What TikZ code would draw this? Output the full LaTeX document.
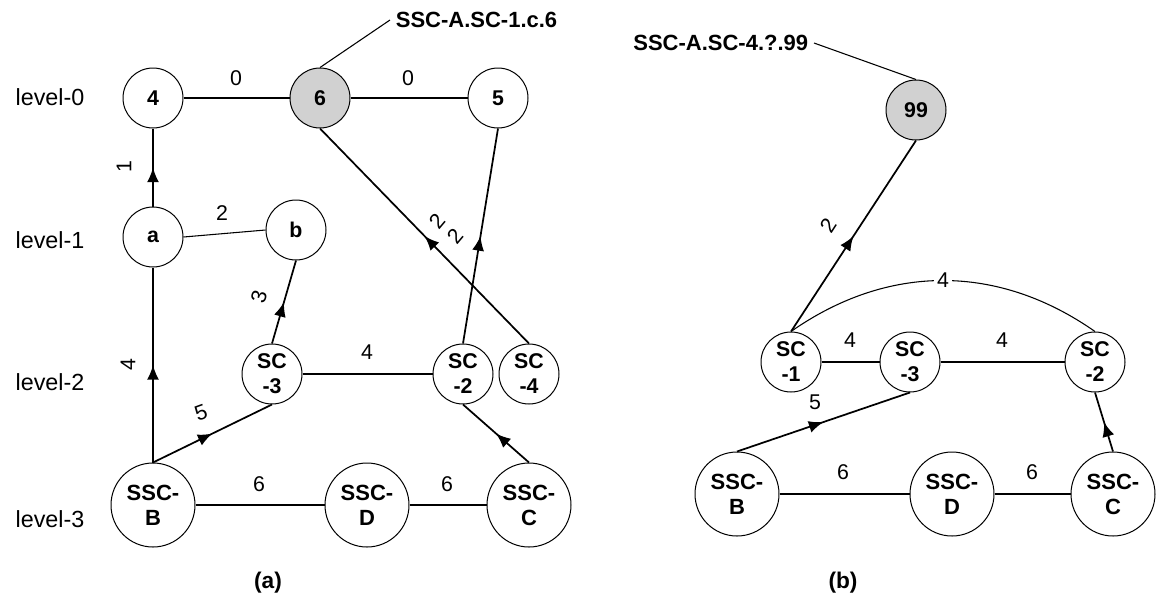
\documentclass[tikz,border=0pt]{standalone}
\usepackage{fontspec}
\setmainfont{Liberation Sans}
\usepackage{tikz}
\usetikzlibrary{arrows.meta,decorations.markings}
\tikzset{every picture/.style={line width=0.75pt}}
\definecolor{hlgrey}{RGB}{209,209,209}
\tikzset{
  small/.style={circle,draw,line width=0.75pt,minimum size=45pt,inner sep=0pt,
    font=\bfseries\fontsize{16}{19}\selectfont},
  sc/.style={small,align=center,font=\bfseries\fontsize{16}{18.75}\selectfont},
  big/.style={circle,draw,line width=0.75pt,minimum size=63pt,inner sep=0pt,align=center,
    font=\bfseries\fontsize{16.5}{18.75}\selectfont},
  marked/.style={fill=hlgrey},
  wire/.style={line width=1.3pt},
  thinwire/.style={line width=0.8pt},
  midarrow/.style={postaction={decorate},decoration={markings,
    mark=at position 0.5 with {\arrow{Latex[length=11pt,width=9pt]}}}},
  weight/.style={inner sep=0pt,font=\fontsize{16}{19}\selectfont},
  levellbl/.style={inner sep=0pt,font=\fontsize{17.5}{20}\selectfont},
  tag/.style={inner sep=4pt,font=\bfseries\fontsize{16.5}{19}\selectfont},
  caption/.style={inner sep=0pt,font=\bfseries\fontsize{17}{20}\selectfont}
}

\begin{document}
\begin{tikzpicture}[x=0.75pt,y=0.75pt,yscale=-1,xscale=1]
\useasboundingbox (0,0) rectangle (1157,612);

%%%% (a)
%Shape: Circle
\node[small] (four) at (153,98) {4};
\node[small,marked] (six) at (320,98) {6};
\node[small] (five) at (498,98) {5};
\node[small] (na) at (153,237) {a};
\node[small] (nb) at (296,230) {b};
\node[sc] (scthree) at (272,374) {SC\\-3};
\node[sc] (sctwo) at (463,374) {SC\\-2};
\node[sc] (scfour) at (529,374) {SC\\-4};
\node[big] (sscb) at (153,505) {SSC-\\B};
\node[big] (sscd) at (367,505) {SSC-\\D};
\node[big] (sscc) at (529,505) {SSC-\\C};

%Straight Lines
\draw[wire] (four) -- (six);
\draw[wire] (six) -- (five);
\draw[wire,midarrow] (na.north) -- (four.south);
\draw[thinwire] (na.east) -- (nb.west);
\draw[wire,midarrow] (scthree.north) -- (nb.south);
\draw[wire,midarrow] (sscb.north) -- (na.south);
\draw[wire,midarrow] (sscb.north) -- (scthree.south);
\draw[wire] (scthree) -- (sctwo);
\draw[wire,midarrow] (sctwo.north) -- (five.south);
\draw[wire,midarrow] (scfour.north) -- (six.south);
\draw[wire,midarrow] (sscc.north) -- (sctwo.south);
\draw[thinwire] (sscb) -- (sscd);
\draw[thinwire] (sscd) -- (sscc);

% Text Node
\node[tag,anchor=west] (tagA) at (390,20) {SSC-A.SC-1.c.6};
\draw[thinwire] (six.north) -- (tagA.west);

% Text Node
\node[weight] (wfoursix) at (236,78) {0};
\node[weight] (wsixfive) at (408,78) {0};
\node[weight,rotate=90] (wafour) at (124,167) {1};
\node[weight] (wab) at (222,213) {2};
\node[weight,rotate=74] (wthreeb) at (259,297) {3};
\node[weight,rotate=90] (wba) at (128,365) {4};
\node[weight,rotate=20] (wbthree) at (201,413) {5};
\node[weight] (wthreetwo) at (367,352) {4};
\node[weight,rotate=50] (wfoursix) at (437,221) {2};
\node[weight,rotate=50] (wtwofive) at (455,236) {2};
\node[weight] (wbd) at (259,484) {6};
\node[weight] (wdc) at (447,484) {6};

% Text Node
\node[levellbl] (lvzero) at (50,97) {level-0};
\node[levellbl] (lvone) at (50,240) {level-1};
\node[levellbl] (lvtwo) at (50,382) {level-2};
\node[levellbl] (lvthree) at (50,519) {level-3};
\node[caption] (capa) at (268,583) {(a)};

%%%% (b)
%Shape: Circle
\node[small,marked] (ninetynine) at (916,110) {99};
\node[sc] (scone) at (791,362) {SC\\-1};
\node[sc] (scthreeb) at (910,362) {SC\\-3};
\node[sc] (sctwob) at (1095,362) {SC\\-2};
\node[big] (sscbb) at (737,494) {SSC-\\B};
\node[big] (sscdb) at (952,494) {SSC-\\D};
\node[big] (ssccb) at (1113,494) {SSC-\\C};

%Straight Lines
\draw[wire,midarrow] (scone.north) -- (ninetynine.south);
\draw[wire] (scone) -- (scthreeb);
\draw[wire] (scthreeb) -- (sctwob);
\draw[wire,midarrow] (sscbb.north) -- (scthreeb.south);
\draw[wire,midarrow] (ssccb.north) -- (sctwob.south);
\draw[thinwire] (sscbb) -- (sscdb);
\draw[thinwire] (sscdb) -- (ssccb);
%Curve Lines
\draw[thinwire] (scone.north) to[out=-35,in=-145]
  node[weight,fill=white,inner sep=2pt] (warc) {4} (sctwob.north);

% Text Node
\node[tag,anchor=east] (tagB) at (814,43) {SSC-A.SC-4.?.99};
\draw[thinwire] (tagB.east) -- (ninetynine.north);

% Text Node
\node[weight,rotate=57] (wonenn) at (828,225) {2};
\node[weight] (wonethree) at (850,340) {4};
\node[weight] (wthreetwob) at (1002,340) {4};
\node[weight] (wbthreeb) at (815,402) {5};
\node[weight] (wbdb) at (843,472) {6};
\node[weight] (wdcb) at (1032,472) {6};
\node[caption] (capb) at (843,583) {(b)};

\end{tikzpicture}
\end{document}
